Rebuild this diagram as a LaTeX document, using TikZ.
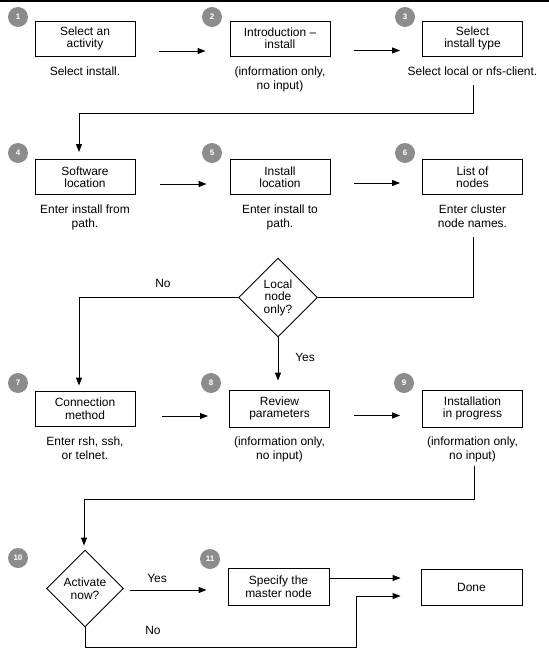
\documentclass[tikz,border=0pt]{standalone}
\usepackage{fontspec}
\setmainfont{Liberation Sans}
\usetikzlibrary{shapes.geometric,arrows.meta,calc}
\begin{document}
\begin{tikzpicture}[x=1bp,y=-1bp, line width=0.9bp,
  txt/.style={font=\fontsize{12}{12.5}\selectfont},
  box/.style={draw, minimum width=100bp, minimum height=35bp, inner sep=0pt, align=center, txt},
  capt/.style={align=center, inner sep=0pt, anchor=north, font=\fontsize{12}{14}\selectfont},
  dia/.style={draw, diamond, aspect=1, inner sep=0pt, align=center, txt},
  badge/.style={circle, fill=black!45, minimum size=20bp, inner sep=0pt, font=\fontsize{8}{8}\selectfont\bfseries, text=white},
  arr/.style={-{Triangle[length=8bp,width=6bp]}},
  lbl/.style={inner sep=0pt, txt}]
\useasboundingbox (0,0) rectangle (549,650);
\draw[line width=1.6bp] (0,0.8) -- (549,0.8);

% row 1
\node[box] (b1) at (85,38.5) {Select an\\activity};
\node[box] (b2) at (280,38.5) {Introduction --\\install};
\node[box] (b3) at (472.5,38.5) {Select\\install type};
\node[capt] (c1) at ($(b1.south)+(0,10)$) {Select install.};
\node[capt] (c2) at ($(b2.south)+(0,10)$) {(information only,\\no input)};
\node[capt] (c3) at ($(b3.south)+(0,10)$) {Select local or nfs-client.};
% row 2
\node[box] (b4) at (85,177) {Software\\location};
\node[box] (b5) at (280,177) {Install\\location};
\node[box] (b6) at (472.5,177) {List of\\nodes};
\node[capt] (c4) at ($(b4.south)+(0,9.5)$) {Enter install from\\path.};
\node[capt] (c5) at ($(b5.south)+(0,9.5)$) {Enter install to\\path.};
\node[capt] (c6) at ($(b6.south)+(0,9.5)$) {Enter cluster\\node names.};
% decision 1
\node[dia, minimum size=79bp] (d1) at (278,297.5) {Local\\node\\only?};
% row 3
\node[box] (b7) at (85,408.5) {Connection\\method};
\node[box, minimum height=37bp] (b8) at (279.5,408.5) {Review\\parameters};
\node[box, minimum height=37bp] (b9) at (472.5,408.5) {Installation\\in progress};
\node[capt] (c7) at ($(b7.south)+(0,10)$) {Enter rsh, ssh,\\or telnet.};
\node[capt] (c8) at ($(b8.south)+(0,9)$) {(information only,\\no input)};
\node[capt] (c9) at ($(b9.south)+(0,9)$) {(information only,\\no input)};
% bottom row
\node[dia, minimum size=77bp] (d2) at (85,588.5) {Activate\\now?};
\node[box, minimum width=101bp, minimum height=37bp] (b11) at (278.5,586.5) {Specify the\\master node};
\node[box, minimum width=101bp, minimum height=36bp] (done) at (471.5,587) {Done};

% badges
\node[badge] (n1) at (18,17) {1};
\node[badge] (n2) at (212,17) {2};
\node[badge] (n3) at (405,17) {3};
\node[badge] (n4) at (18,153) {4};
\node[badge] (n5) at (212,153) {5};
\node[badge] (n6) at (405,153) {6};
\node[badge] (n7) at (18,383) {7};
\node[badge] (n8) at (211,383) {8};
\node[badge] (n9) at (404,383) {9};
\node[badge] (n10) at (18,558) {10};
\node[badge] (n11) at (210,559) {11};

% connectors
\draw[arr] ([shift={(24,12.5)}]b1.east) -- ([shift={(-24,12.5)}]b2.west);
\draw[arr] ([shift={(24,12)}]b2.east) -- ([shift={(-22,12)}]b3.west);
\coordinate (s3) at (473,85);
\draw[arr] (s3) -- ++(0,28) -| ([shift={(-6,-7)}]b4.north);
\draw[arr] ([shift={(25,7)}]b4.east) -- ([shift={(-23,7)}]b5.west);
\draw[arr] ([shift={(24,6)}]b5.east) -- ([shift={(-22,6)}]b6.west);
\coordinate (s6) at (473,237);
\draw (s6) |- (d1.east);
\draw[arr] (d1.west) -| ([shift={(-6,-5)}]b7.north);
\node[lbl] (no1) at (163,283) {No};
\draw[arr] (d1.south) -- ($(d1.south |- b8.north)+(0,-9)$);
\node[lbl] (yes1) at (305,357) {Yes};
\draw[arr] ([shift={(27,7.5)}]b7.east) -- ([shift={(-21,7.5)}]b8.west);
\draw[arr] ([shift={(24,7)}]b8.east) -- ([shift={(-22,7)}]b9.west);
\coordinate (s9) at (474,466);
\draw[arr] (s9) -- ++(0,33) -| ([shift={(-1,-4)}]d2.north);
\draw[arr] ([shift={(6,1.5)}]d2.east) -- ($(d2.east -| b11.west)+(-21,1.5)$);
\node[lbl] (yes2) at (157,578) {Yes};
\draw[arr] ([shift={(0,-8.5)}]b11.east) -- ($([shift={(0,-8.5)}]b11.east -| done.west)+(-20,0)$);
\coordinate (k) at (356,647);
\draw[arr] (d2.south) |- (k) |- ($(done.west)+(-20,9)$);
\node[lbl] (no2) at (153,630) {No};
\end{tikzpicture}
\end{document}
